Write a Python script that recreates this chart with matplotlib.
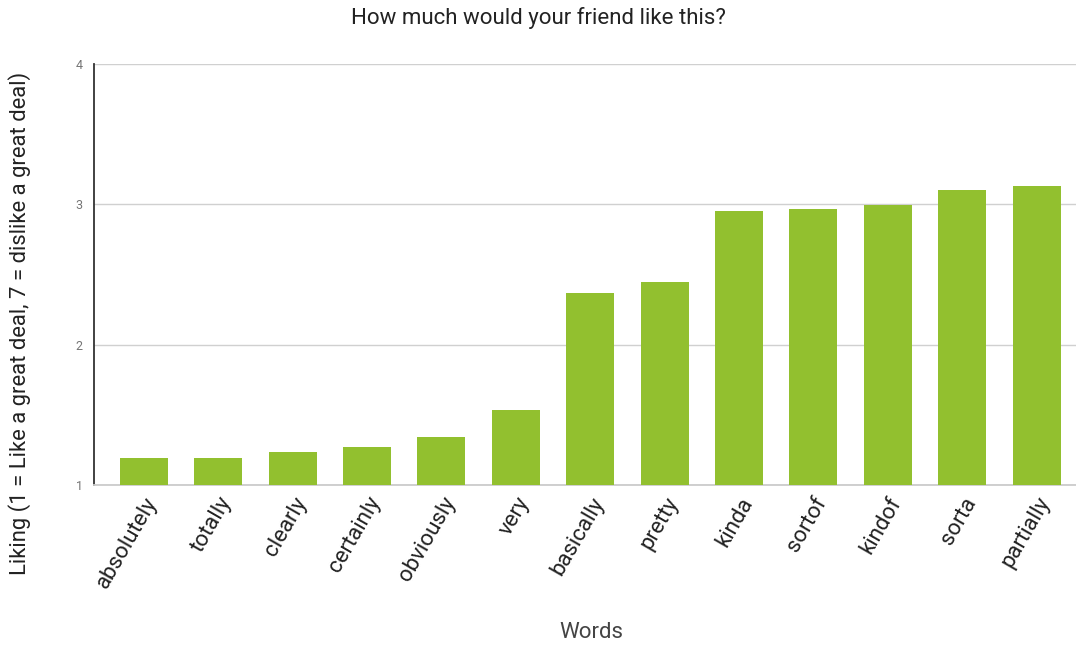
import matplotlib
matplotlib.use("Agg")
import matplotlib.pyplot as plt

plt.rcParams['font.family'] = ['Roboto', 'DejaVu Sans']

words = ["absolutely", "totally", "clearly", "certainly", "obviously", "very",
         "basically", "pretty", "kinda", "sortof", "kindof", "sorta", "partially"]
liking = [1.19, 1.19, 1.235, 1.27, 1.34, 1.535, 2.37, 2.45, 2.95, 2.97, 2.995, 3.10, 3.13]
yticks = [1, 2, 3, 4]

fig = plt.figure(figsize=(10.76, 6.46), dpi=100)
ax = fig.add_axes([94/1076, 1-485/646, 1-94/1076, (485-64)/646])

x = list(range(len(words)))
ax.bar(x, [v - 1 for v in liking], bottom=1, width=0.645, color="#92c02f", zorder=3)
ax.set_ylim(1, 4)
ax.set_xlim(-0.67, 12.53)
ax.set_yticks(yticks)
ax.set_yticklabels([str(t) for t in yticks], fontsize=9, color="#757575")
ax.yaxis.grid(True, color="#d0d0d0", linewidth=1, zorder=0)
ax.tick_params(axis='y', length=0, pad=8)
ax.tick_params(axis='x', length=0, pad=6)
ax.set_xticks(x)
ax.set_xticklabels(words, rotation=60, ha='right', rotation_mode='anchor', fontsize=16, color="#222222")
for s in ['top', 'right']:
    ax.spines[s].set_visible(False)
ax.spines['left'].set_color("#333333")
ax.spines['left'].set_linewidth(1.3)
ax.spines['bottom'].set_color("#cccccc")
ax.spines['bottom'].set_linewidth(1.3)

fig.text(0.5, 1-18/646, "How much would your friend like this?", ha='center', va='center', fontsize=16, color="#222222")
fig.text(0.55, 1-633/646, "Words", ha='center', va='center', fontsize=16, color="#444444")
fig.text(20/1076, 1-323/646, "Liking (1 = Like a great deal, 7 = dislike a great deal)", rotation=90,
         ha='center', va='center', fontsize=15.8, color="#222222")

fig.savefig("out.png", dpi=100)
